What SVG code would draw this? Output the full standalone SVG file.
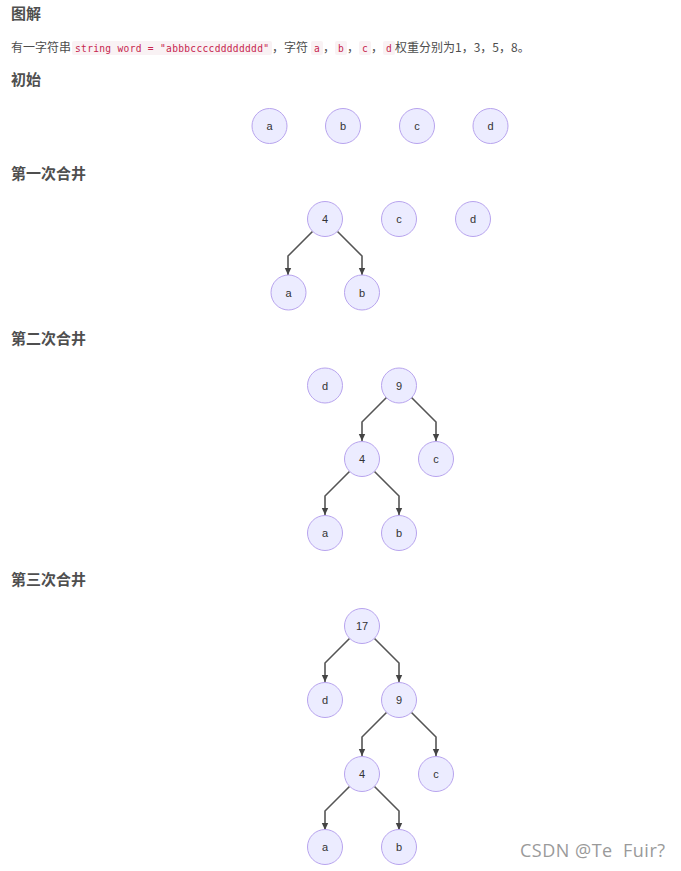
<svg xmlns="http://www.w3.org/2000/svg" width="681" height="871" viewBox="0 0 681 871">
<defs>
<style>
.h{font-family:"Noto Sans CJK SC","Liberation Sans",sans-serif;font-size:15px;font-weight:bold;fill:#4f4f4f}
.t{font-family:"Noto Sans CJK SC","Liberation Sans",sans-serif;font-size:12px;fill:#4d4d4d}
.code{font-family:"DejaVu Sans Mono","Liberation Mono",monospace;font-size:9.6px;fill:#c7254e}
.cbg{fill:#f9f2f4}
.n circle{fill:#ececff;stroke:#b8a4ee;stroke-width:1}
.n text{font-family:"Liberation Sans",Arial,sans-serif;font-size:11px;fill:#333;text-anchor:middle}
.e path{fill:none;stroke:#555;stroke-width:1.6}
.wm{font-family:"Open Sans","Noto Sans",sans-serif;font-size:18px;letter-spacing:0.5px;fill:#9a9a9a;white-space:pre}
</style>
<marker id="arr" markerWidth="8" markerHeight="8" refX="7" refY="4" orient="auto" markerUnits="userSpaceOnUse">
<path d="M0,0.8 L7,4 L0,7.2 z" fill="#444"/>
</marker>
</defs>
<rect width="681" height="871" fill="#fff"/>

<text class="h" x="11" y="19">图解</text>
<text class="t" x="11" y="52">有一字符串</text>
<rect class="cbg" x="72" y="41" width="200" height="14" rx="2"/>
<text class="code" x="75" y="51.5" textLength="194" lengthAdjust="spacing">string word = "abbbccccdddddddd"</text>
<text class="t" x="272" y="52">，字符</text>
<rect class="cbg" x="311" y="41" width="12" height="14" rx="2"/>
<text class="code" x="317" y="51.5" text-anchor="middle">a</text>
<text class="t" x="323" y="52">，</text>
<rect class="cbg" x="335" y="41" width="12" height="14" rx="2"/>
<text class="code" x="341" y="51.5" text-anchor="middle">b</text>
<text class="t" x="347" y="52">，</text>
<rect class="cbg" x="359" y="41" width="12" height="14" rx="2"/>
<text class="code" x="365" y="51.5" text-anchor="middle">c</text>
<text class="t" x="371" y="52">，</text>
<rect class="cbg" x="383" y="41" width="12" height="14" rx="2"/>
<text class="code" x="389" y="51.5" text-anchor="middle">d</text>
<text class="t" x="395" y="52">权重分别为1，3，5，8。</text>

<text class="h" x="11" y="85">初始</text>
<text class="h" x="11" y="179">第一次合井</text>
<text class="h" x="11" y="344">第二次合井</text>
<text class="h" x="11" y="585">第三次合井</text>

<g class="e" id="connectors">
<path d="M312.5,231.5 L288,256 L288,275" marker-end="url(#arr)"/>
<path d="M337.5,231.5 L362,256 L362,275" marker-end="url(#arr)"/>

<path d="M386.5,397.5 L362,422 L362,441" marker-end="url(#arr)"/>
<path d="M411.5,397.5 L436,422 L436,441" marker-end="url(#arr)"/>
<path d="M349.5,471.5 L325,496 L325,515" marker-end="url(#arr)"/>
<path d="M374.5,471.5 L399,496 L399,515" marker-end="url(#arr)"/>

<path d="M349.5,638.5 L325,663 L325,682" marker-end="url(#arr)"/>
<path d="M374.5,638.5 L399,663 L399,682" marker-end="url(#arr)"/>
<path d="M386.5,712.5 L362,737 L362,756" marker-end="url(#arr)"/>
<path d="M411.5,712.5 L436,737 L436,756" marker-end="url(#arr)"/>
<path d="M349.5,786.5 L325,811 L325,830" marker-end="url(#arr)"/>
<path d="M374.5,786.5 L399,811 L399,830" marker-end="url(#arr)"/>
</g>

<g class="n" id="s0a"><circle cx="269.5" cy="126" r="17.5"/><text x="269.5" y="130">a</text></g>
<g class="n" id="s0b"><circle cx="343" cy="126" r="17.5"/><text x="343" y="130">b</text></g>
<g class="n" id="s0c"><circle cx="417" cy="126" r="17.5"/><text x="417" y="130">c</text></g>
<g class="n" id="s0d"><circle cx="490.5" cy="126" r="17.5"/><text x="490.5" y="130">d</text></g>

<g class="n" id="s1n4"><circle cx="325" cy="219" r="17.5"/><text x="325" y="223">4</text></g>
<g class="n" id="s1c"><circle cx="399" cy="219" r="17.5"/><text x="399" y="223">c</text></g>
<g class="n" id="s1d"><circle cx="473" cy="219" r="17.5"/><text x="473" y="223">d</text></g>
<g class="n" id="s1a"><circle cx="288.5" cy="292.5" r="17.5"/><text x="288.5" y="296.5">a</text></g>
<g class="n" id="s1b"><circle cx="362" cy="292.5" r="17.5"/><text x="362" y="296.5">b</text></g>

<g class="n" id="s2d"><circle cx="325" cy="385.5" r="17.5"/><text x="325" y="389.5">d</text></g>
<g class="n" id="s2n9"><circle cx="399" cy="385.5" r="17.5"/><text x="399" y="389.5">9</text></g>
<g class="n" id="s2n4"><circle cx="362" cy="459" r="17.5"/><text x="362" y="463">4</text></g>
<g class="n" id="s2c"><circle cx="436" cy="459" r="17.5"/><text x="436" y="463">c</text></g>
<g class="n" id="s2a"><circle cx="325" cy="533" r="17.5"/><text x="325" y="537">a</text></g>
<g class="n" id="s2b"><circle cx="399" cy="533" r="17.5"/><text x="399" y="537">b</text></g>

<g class="n" id="s3n17"><circle cx="362" cy="626" r="17.5"/><text x="362" y="630">17</text></g>
<g class="n" id="s3d"><circle cx="325" cy="700" r="17.5"/><text x="325" y="704">d</text></g>
<g class="n" id="s3n9"><circle cx="399" cy="700" r="17.5"/><text x="399" y="704">9</text></g>
<g class="n" id="s3n4"><circle cx="362" cy="774" r="17.5"/><text x="362" y="778">4</text></g>
<g class="n" id="s3c"><circle cx="436" cy="774" r="17.5"/><text x="436" y="778">c</text></g>
<g class="n" id="s3a"><circle cx="325" cy="847" r="17.5"/><text x="325" y="851">a</text></g>
<g class="n" id="s3b"><circle cx="399" cy="847" r="17.5"/><text x="399" y="851">b</text></g>

<text class="wm" x="520" y="857" xml:space="preserve">CSDN @Te  Fuir?</text>
</svg>
